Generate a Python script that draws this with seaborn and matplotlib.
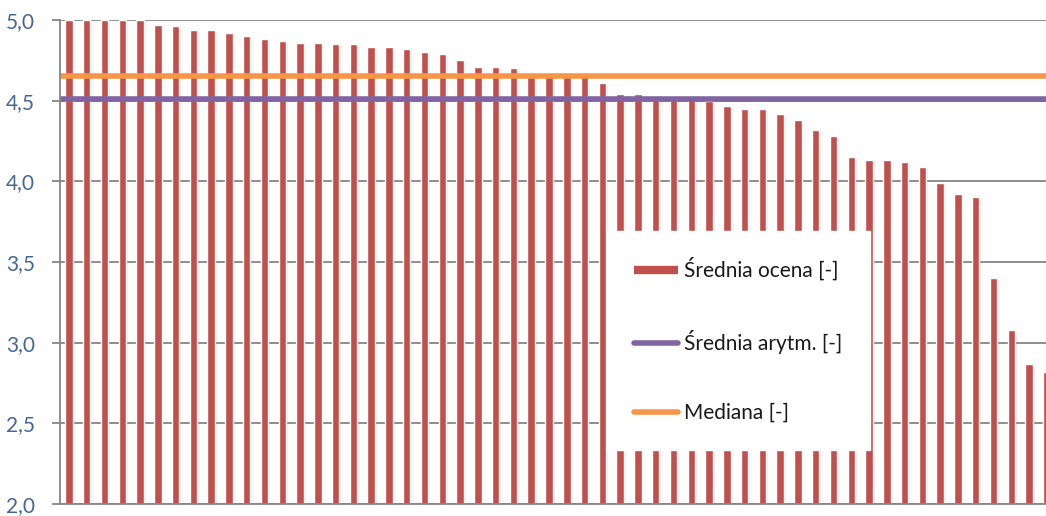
import matplotlib
matplotlib.use("Agg")
import matplotlib.pyplot as plt
import numpy as np
import pandas as pd
import seaborn as sns
from matplotlib.lines import Line2D

# average rating per item, sorted descending (chart is cropped on the right)
ratings = [
    5.00, 5.00, 5.00, 5.00, 5.00, 4.97, 4.96, 4.94, 4.94, 4.92,
    4.90, 4.88, 4.87, 4.86, 4.86, 4.85, 4.85, 4.83, 4.83, 4.82,
    4.80, 4.79, 4.75, 4.71, 4.71, 4.70, 4.65, 4.65, 4.65, 4.65,
    4.61, 4.54, 4.54, 4.53, 4.51, 4.51, 4.50, 4.47, 4.45, 4.45,
    4.42, 4.38, 4.32, 4.28, 4.15, 4.13, 4.13, 4.12, 4.09, 3.99,
    3.92, 3.90, 3.40, 3.08, 2.87, 2.82,
]
items = [str(i + 1) for i in range(len(ratings))]
mean_value = 4.51
median_value = 4.65

labels = ["Średnia ocena [-]", "Średnia arytm. [-]", "Mediana [-]"]
yticks = [2.0, 2.5, 3.0, 3.5, 4.0, 4.5, 5.0]
ytick_labels = ["2,0", "2,5", "3,0", "3,5", "4,0", "4,5", "5,0"]

BAR = "#C0504D"
PURPLE = "#8064A2"
ORANGE = "#F79646"
GRID = "#868686"
TICK_TXT = "#44679A"

sns.set_theme(style="white")
plt.rcParams["font.family"] = ["Lato", "Open Sans", "DejaVu Sans"]

df = pd.DataFrame({"item": items, "rating": ratings})

fig = plt.figure(figsize=(10.46, 5.16), dpi=100)
ax = fig.add_axes([60 / 1046, 12 / 516, 1 - 60 / 1046, 484 / 516])

# soft shadow behind the bars (Excel-like)
pos = np.arange(len(ratings))
ax.bar(pos + 0.08, df["rating"], width=0.62, color="#f3f3f3", zorder=1)
ax.bar(pos + 0.06, df["rating"], width=0.50, color="#e6e6e6", zorder=1.1)

sns.barplot(data=df, x="item", y="rating", color=BAR, width=0.42,
            saturation=1, ax=ax)
for p in ax.patches[-len(ratings):]:
    p.set_zorder(2)

ax.axhline(mean_value, color=PURPLE, lw=4.0, zorder=3)
ax.axhline(median_value, color=ORANGE, lw=4.0, zorder=3)

ax.set_ylim(2.0, 5.0)
ax.set_xlim(-0.5, 54.95)
ax.set_yticks(yticks)
ax.set_yticklabels(ytick_labels, fontsize=15, color=TICK_TXT)
ax.set_xticks([])
ax.set_xlabel("")
ax.set_ylabel("")
ax.yaxis.grid(True, color=GRID, lw=1.3, linestyle="-")
# grid above the shadows, below the bars
ax.yaxis.set_zorder(1.5)
ax.tick_params(axis="y", which="major", left=True, length=6, width=1.3,
               color=GRID, pad=12)
for side in ["top", "right"]:
    ax.spines[side].set_visible(False)
for side in ["left", "bottom"]:
    ax.spines[side].set_color(GRID)
    ax.spines[side].set_linewidth(1.3)
    ax.spines[side].set_zorder(4)

handles = [
    Line2D([0], [0], color=BAR, lw=6, solid_capstyle="butt"),
    Line2D([0], [0], color=PURPLE, lw=4, solid_capstyle="round"),
    Line2D([0], [0], color=ORANGE, lw=4, solid_capstyle="round"),
]
leg = ax.legend(handles, labels, loc="lower left",
                bbox_to_anchor=(0.5548, 0.1116, 0.2667, 0.0),
                mode="expand", fontsize=15, frameon=True, fancybox=False,
                facecolor="white", edgecolor="white", framealpha=1,
                handlelength=2.1, handletextpad=0.3, labelspacing=2.35,
                borderpad=1.3, borderaxespad=0)
leg.set_zorder(5)
for t in leg.get_texts():
    t.set_color("#1a1a1a")

fig.savefig("out.png", dpi=100)
